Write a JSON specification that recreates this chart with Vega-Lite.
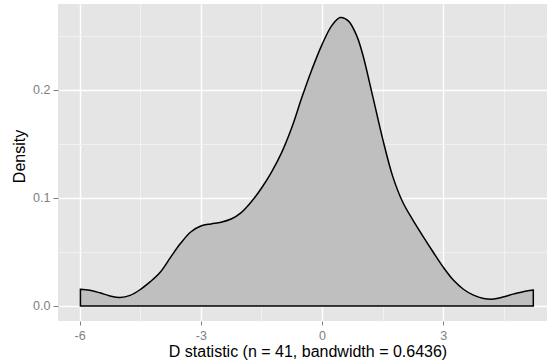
{
  "$schema": "https://vega.github.io/schema/vega-lite/v6.json",
  "width": 489,
  "height": 317,
  "autosize": {"type": "none"},
  "padding": {"left": 58, "top": 4, "right": 0, "bottom": 43},
  "background": "white",
  "config": {"view": {"fill": "#E5E5E5", "stroke": null}, "font": "Liberation Sans"},
  "data": {"values": [
    {"x": -5.98, "density": 0.0155},
    {"x": -5.75, "density": 0.0146},
    {"x": -5.5, "density": 0.0122},
    {"x": -5.25, "density": 0.0093},
    {"x": -5.0, "density": 0.0078},
    {"x": -4.75, "density": 0.0098},
    {"x": -4.5, "density": 0.0152},
    {"x": -4.25, "density": 0.0225},
    {"x": -4.0, "density": 0.0315},
    {"x": -3.75, "density": 0.0450},
    {"x": -3.5, "density": 0.0580},
    {"x": -3.25, "density": 0.0685},
    {"x": -3.0, "density": 0.0740},
    {"x": -2.75, "density": 0.0760},
    {"x": -2.5, "density": 0.0775},
    {"x": -2.25, "density": 0.0805},
    {"x": -2.0, "density": 0.0865},
    {"x": -1.75, "density": 0.0965},
    {"x": -1.5, "density": 0.1090},
    {"x": -1.25, "density": 0.1240},
    {"x": -1.0, "density": 0.1420},
    {"x": -0.75, "density": 0.1650},
    {"x": -0.5, "density": 0.1930},
    {"x": -0.25, "density": 0.2190},
    {"x": 0.0, "density": 0.2420},
    {"x": 0.25, "density": 0.2600},
    {"x": 0.45, "density": 0.2670},
    {"x": 0.65, "density": 0.2640},
    {"x": 0.85, "density": 0.2510},
    {"x": 1.0, "density": 0.2340},
    {"x": 1.25, "density": 0.1950},
    {"x": 1.5, "density": 0.1550},
    {"x": 1.75, "density": 0.1200},
    {"x": 2.0, "density": 0.0960},
    {"x": 2.25, "density": 0.0795},
    {"x": 2.5, "density": 0.0645},
    {"x": 2.75, "density": 0.0500},
    {"x": 3.0, "density": 0.0360},
    {"x": 3.25, "density": 0.0240},
    {"x": 3.5, "density": 0.0155},
    {"x": 3.75, "density": 0.0100},
    {"x": 4.0, "density": 0.0070},
    {"x": 4.25, "density": 0.0064},
    {"x": 4.5, "density": 0.0085},
    {"x": 4.75, "density": 0.0112},
    {"x": 5.0, "density": 0.0135},
    {"x": 5.23, "density": 0.0148}
  ]},
  "mark": {"type": "area", "fill": "#BFBFBF", "stroke": "black", "strokeWidth": 1.5, "interpolate": "catmull-rom", "clip": true},
  "encoding": {
    "x": {
      "field": "x",
      "type": "quantitative",
      "scale": {"domain": [-6.535, 5.569], "nice": false, "zero": false},
      "axis": {
        "values": [-6, -4.5, -3, -1.5, 0, 1.5, 3, 4.5],
        "title": "D statistic (n = 41, bandwidth = 0.6436)",
        "domain": false,
        "tickSize": 4,
        "tickWidth": 1,
        "tickColor": "#7F7F7F",
        "tickOpacity": {"condition": {"test": "datum.value % 3 == 0", "value": 1}, "value": 0},
        "labelExpr": "datum.value % 3 == 0 ? '' + datum.value : ''",
        "labelColor": "#7F7F7F",
        "labelFontSize": 12.5,
        "labelPadding": 4,
        "labelFlush": false,
        "labelOverlap": false,
        "gridColor": {"condition": {"test": "datum.value % 3 == 0", "value": "#FFFFFF"}, "value": "#F2F2F2"},
        "gridWidth": {"condition": {"test": "datum.value % 3 == 0", "value": 1.5}, "value": 1},
        "gridOpacity": 1,
        "titleFontSize": 16,
        "titleFontWeight": "normal",
        "titleColor": "black",
        "titleX": 249.5,
        "titleY": 35,
        "titleBaseline": "alphabetic",
        "titleAlign": "center"
      }
    },
    "y": {
      "field": "density",
      "type": "quantitative",
      "scale": {"domain": [-0.0139, 0.2796], "nice": false, "zero": false},
      "axis": {
        "values": [0, 0.05, 0.1, 0.15, 0.2, 0.25],
        "title": "Density",
        "domain": false,
        "tickSize": 5,
        "tickWidth": 1,
        "tickColor": "#7F7F7F",
        "tickOpacity": {"condition": {"test": "abs(datum.value * 10 - round(datum.value * 10)) < 0.001", "value": 1}, "value": 0},
        "labelExpr": "abs(datum.value * 10 - round(datum.value * 10)) < 0.001 ? format(datum.value, '.1f') : ''",
        "labelColor": "#7F7F7F",
        "labelFontSize": 12.5,
        "labelPadding": 3,
        "labelFlush": false,
        "labelOverlap": false,
        "gridColor": {"condition": {"test": "abs(datum.value * 10 - round(datum.value * 10)) < 0.001", "value": "#FFFFFF"}, "value": "#F2F2F2"},
        "gridWidth": {"condition": {"test": "abs(datum.value * 10 - round(datum.value * 10)) < 0.001", "value": 1.5}, "value": 1},
        "gridOpacity": 1,
        "titleFontSize": 16,
        "titleFontWeight": "normal",
        "titleColor": "black",
        "titleAngle": -90,
        "titleX": -39,
        "titleY": 152,
        "titleBaseline": "middle",
        "titleAlign": "center"
      }
    },
    "y2": {"datum": 0}
  }
}
